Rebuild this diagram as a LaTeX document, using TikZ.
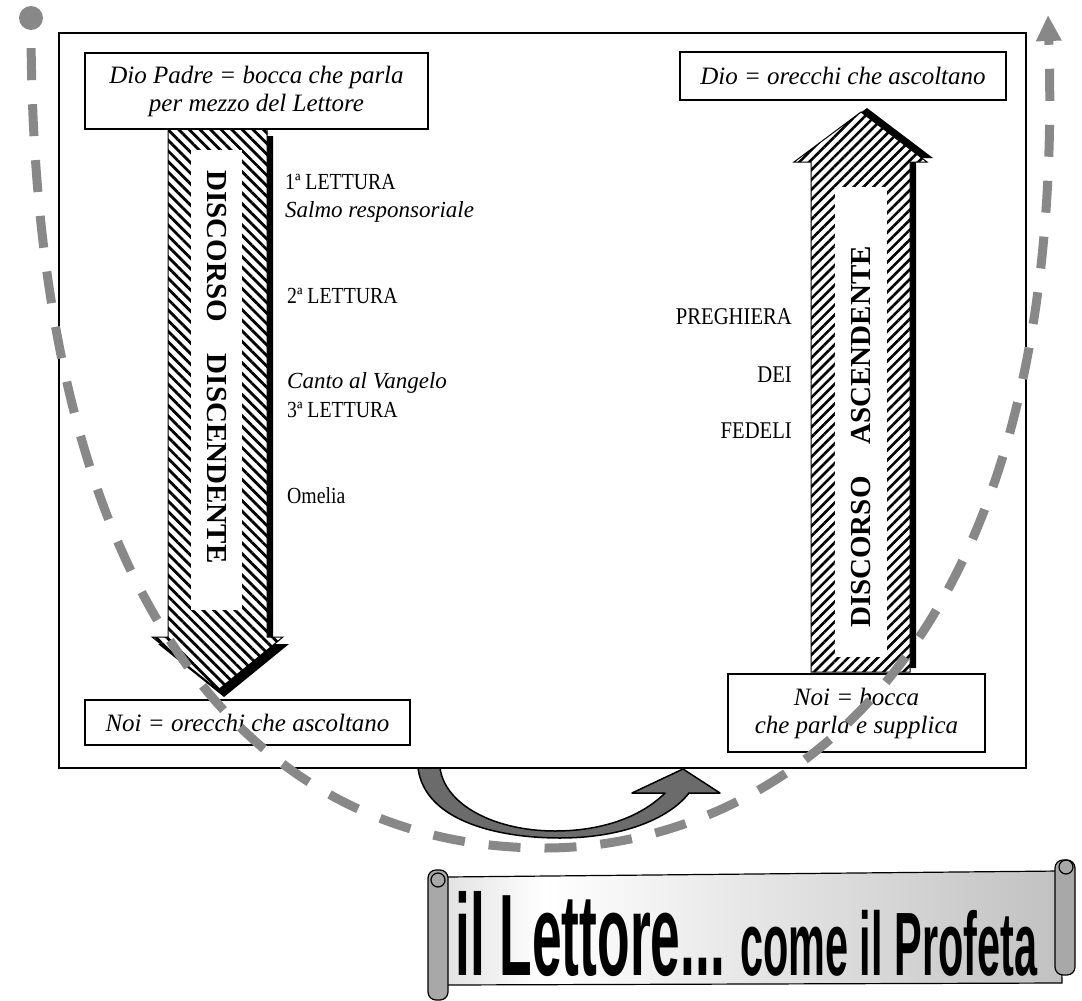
\documentclass[tikz,border=0pt]{standalone}
\usepackage{fontspec}
\setmainfont{Liberation Serif}
\newfontfamily\bannerfont{Liberation Sans}
\usetikzlibrary{patterns.meta}
\usetikzlibrary{arrows.meta}
\definecolor{dashgray}{HTML}{888888}
\definecolor{bendgray}{HTML}{6B6B6B}
\definecolor{scrollL}{HTML}{8A8A8A}
\definecolor{scrollR}{HTML}{9C9C9C}
\definecolor{rollgray}{HTML}{A8A8A8}
\pgfdeclarehorizontalshading{scrollshade}{100bp}{color(0bp)=(scrollL); color(33bp)=(white); color(100bp)=(scrollR)}
\newcommand{\cond}[1]{\scalebox{0.86}[1]{#1}}
\tikzset{
  textbox/.style={draw=black,line width=2.5pt,fill=white,align=center,inner sep=0pt,
    font=\fontsize{25}{28}\selectfont\itshape},
  lab/.style={inner sep=0pt,font=\fontsize{23}{25}\selectfont},
  rlab/.style={inner sep=0pt,anchor=base east,font=\fontsize{24}{26}\selectfont},
  vlab/.style={inner sep=0pt,font=\fontsize{29}{31}\selectfont\bfseries},
  hatchdown/.style={draw=black,line width=1pt,preaction={fill=white},
    pattern={Lines[angle=-45,distance=7.5pt,line width=2.8pt]}},
  hatchup/.style={draw=black,line width=1pt,preaction={fill=white},
    pattern={Lines[angle=45,distance=7pt,line width=2.6pt]}},
  dashline/.style={draw=dashgray,line width=9pt,dash pattern=on 32pt off 24pt,dash phase=38pt},
}

\begin{document}
\begin{tikzpicture}[x=1pt,y=-1pt]
  \useasboundingbox (0,0) rectangle (1082,1001);
  \draw[line width=1.2pt] (59,33) rectangle (1026,768);

  % descending arrow
  \fill[black,shift={(6,7)}] (168,129) -- (267,129) -- (267,637) -- (283,637) -- (218,690) -- (152,637) -- (168,637) -- cycle;
  \path[hatchdown] (168,129) -- (267,129) -- (267,637) -- (283,637) -- (218,690) -- (152,637) -- (168,637) -- cycle;
  \fill[white] (191,150) rectangle (242,610);
  \node[vlab,rotate=-90] (disc) at (216.5,367) {DISCORSO\hspace{32pt}DISCENDENTE};

  % ascending arrow
  \fill[black,shift={(6,-4)}] (811,672) -- (811,162) -- (794,162) -- (861,112) -- (927,162) -- (910,162) -- (910,672) -- cycle;
  \path[hatchup] (811,672) -- (811,162) -- (794,162) -- (861,112) -- (927,162) -- (910,162) -- (910,672) -- cycle;
  \fill[white] (835,187) rectangle (887,657);
  \node[vlab,rotate=90] (asc) at (861,437) {DISCORSO\hspace{32pt}ASCENDENTE};

  \node[textbox,minimum width=343pt,minimum height=76pt] (padre) at (256.5,91) {Dio Padre = bocca che parla\\per mezzo del Lettore};
  \node[textbox,minimum width=326pt,minimum height=48pt] (dio) at (843,76) {Dio = orecchi che ascoltano};
  \node[textbox,minimum width=325pt,minimum height=45pt] (noiasc) at (247.5,722.5) {Noi = orecchi che ascoltano};
  \node[textbox,minimum width=257pt,minimum height=78pt] (noipar) at (856.5,713) {Noi = bocca\\che parla e supplica};

  % readings
  \node[lab,anchor=base west] (let1) at (285,189) {\cond{1ª LETTURA}};
  \node[lab,anchor=base west] (salmo) at (285,217) {\itshape Salmo responsoriale};
  \node[lab,anchor=base west] (let2) at (287,303) {\cond{2ª LETTURA}};
  \node[lab,anchor=base west] (canto) at (287,388) {\itshape Canto al Vangelo};
  \node[lab,anchor=base west] (let3) at (287,417) {\cond{3ª LETTURA}};
  \node[lab,anchor=base west] (omelia) at (287,503) {\cond{Omelia}};

  \node[rlab] (preg) at (792,324) {\cond{PREGHIERA}};
  \node[rlab] (dei) at (792,382) {\cond{DEI}};
  \node[rlab] (fedeli) at (792,438) {\cond{FEDELI}};

  % bent arrow under the frame
  \draw[fill=bendgray,line width=1.5pt,line join=round] (418,768) .. controls (425,822) and (500,838) .. (560,838)
    .. controls (620,838) and (668,820) .. (689,793) -- (720,793) -- (683,769) -- (632,793) -- (665,793)
    .. controls (640,818) and (600,831) .. (555,831) .. controls (495,831) and (445,805) .. (440,768) -- cycle;

  % dashed loop
  \node[circle,fill=dashgray,minimum size=24pt,inner sep=0pt] (start) at (31,18) {};
  \coordinate (endtip) at (1048,15);
  \draw[dashline,-{Triangle[length=26pt,width=24pt]}] (start.south) .. controls (33,600) and (250,848) .. (545,848)
    .. controls (740,848) and (1070,700) .. (endtip);

  % scroll
  \path[shading=scrollshade,draw=black,line width=1.2pt] (447,877) -- (1060,871) -- (1062,983) -- (447,985) -- cycle;
  \draw[fill=rollgray,line width=1.2pt,rounded corners=8pt] (428,870) rectangle (448,1000);
  \draw[line width=1.2pt] (438,880) circle (7);
  \draw[fill=rollgray,line width=1.2pt,rounded corners=8pt] (1055,860) rectangle (1075,975);
  \draw[line width=1.2pt] (1066,867) circle (7);
  \node[anchor=base west,inner sep=0pt,font=\bannerfont\bfseries] (title) at (455,975)
    {\scalebox{0.46}[1]{\fontsize{116}{116}\selectfont il Lettore...\fontsize{90}{90}\selectfont{} come il Profeta}};
\end{tikzpicture}
\end{document}
